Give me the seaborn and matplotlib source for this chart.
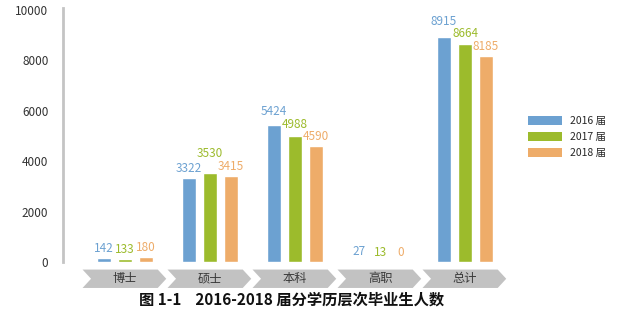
import matplotlib
matplotlib.use("Agg")
import matplotlib.pyplot as plt
from matplotlib.patches import Polygon, Patch
import seaborn as sns
import pandas as pd

categories = ["博士", "硕士", "本科", "高职", "总计"]
years = ["2016 届", "2017 届", "2018 届"]
grad_2016 = [142, 3322, 5424, 27, 8915]
grad_2017 = [133, 3530, 4988, 13, 8664]
grad_2018 = [180, 3415, 4590, 0, 8185]
y_ticks = [0, 2000, 4000, 6000, 8000, 10000]
title = "图 1-1    2016-2018 届分学历层次毕业生人数"

colors = ["#6ca1d1", "#9cbb2c", "#eeac69"]

sns.set_theme(style="white")
plt.rcParams["font.family"] = ["Noto Sans CJK SC", "DejaVu Sans"]

df = pd.DataFrame({
    "category": categories * 3,
    "year": [years[0]] * 5 + [years[1]] * 5 + [years[2]] * 5,
    "count": grad_2016 + grad_2017 + grad_2018,
})

fig = plt.figure(figsize=(6.4, 3.22), dpi=100)
ax = fig.add_axes([63 / 640, 60 / 322, 487 / 640, 254 / 322])

sns.barplot(data=df, x="category", y="count", hue="year", order=categories,
            hue_order=years, palette=colors, width=0.74, gap=0.33,
            saturation=1, ax=ax, legend=False)

ax.set_xlim(-0.73, 5.0)
ax.set_ylim(0, 10080)
ax.set_yticks(y_ticks)
ax.set_yticklabels([str(t) for t in y_ticks], fontsize=8.5, color="#333333")
ax.tick_params(axis="y", length=0, pad=10.5)
ax.set_xticks([])
ax.set_xlabel("")
ax.set_ylabel("")
for side in ["top", "right", "bottom"]:
    ax.spines[side].set_visible(False)
ax.spines["left"].set_color("#c4c4c4")
ax.spines["left"].set_linewidth(2)

# value labels above each bar, staggered so neighbouring 4-digit labels
# do not collide
pad = 120      # gap between bar top and label, data units
sep = 500      # minimum vertical separation of adjacent wide labels


def spread(vals, texts, ys):
    for a in range(2):
        b = a + 1
        if len(texts[a]) + len(texts[b]) >= 8 and abs(ys[a] - ys[b]) < sep:
            if vals[a] >= vals[b]:
                ys[a] = ys[b] + sep
            else:
                ys[b] = ys[a] + sep


series = [list(c) for c in ax.containers]
for gi in range(len(categories)):
    bars = [series[s][gi] for s in range(3)]
    vals = [b.get_height() for b in bars]
    texts = [str(int(v)) for v in vals]
    ys = [v + pad for v in vals]
    spread(vals, texts, ys)
    spread(vals, texts, ys)
    for bar, y, t, col in zip(bars, ys, texts, colors):
        ax.text(bar.get_x() + bar.get_width() / 2, y, t, ha="center",
                va="bottom", fontsize=8.5, color=col)

# chevron-shaped category labels under the axis
y_top, y_bot = -300, -1030
y_mid = (y_top + y_bot) / 2
notch = 0.1
for i, cat in enumerate(categories):
    x0, x1 = i - 0.5, i + 0.5 - 0.015
    pts = [(x0, y_top), (x1 - notch, y_top), (x1, y_mid), (x1 - notch, y_bot),
           (x0, y_bot), (x0 + notch, y_mid)]
    ax.add_patch(Polygon(pts, closed=True, facecolor="#c2c2c2",
                         edgecolor="none", clip_on=False))
    ax.text(i, y_mid, cat, ha="center", va="center", fontsize=8.8,
            color="#3a3a3a", clip_on=False)

handles = [Patch(facecolor=c, edgecolor="none") for c in colors]
fig.legend(handles, years, loc="center left", bbox_to_anchor=(0.81, 0.574),
           frameon=False, fontsize=7.5, handlelength=3.3, handleheight=1.0,
           labelspacing=0.55, handletextpad=0.8)

fig.text(0.455, 0.07, title, ha="center", va="center", fontsize=11,
         fontweight="bold", color="#111111")

fig.savefig("out.png", dpi=100)
